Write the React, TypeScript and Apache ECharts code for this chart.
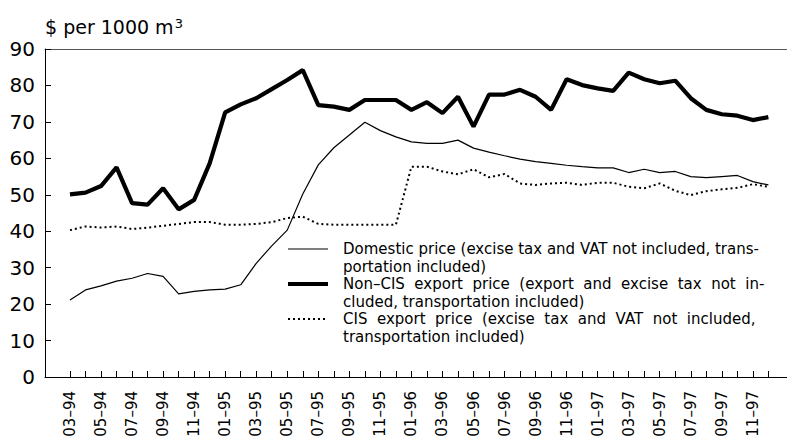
import React, { useEffect, useRef } from 'react';
import * as echarts from 'echarts';

const months = [
  '03–94', '04–94', '05–94', '06–94', '07–94', '08–94', '09–94', '10–94', '11–94', '12–94',
  '01–95', '02–95', '03–95', '04–95', '05–95', '06–95', '07–95', '08–95', '09–95', '10–95', '11–95', '12–95',
  '01–96', '02–96', '03–96', '04–96', '05–96', '06–96', '07–96', '08–96', '09–96', '10–96', '11–96', '12–96',
  '01–97', '02–97', '03–97', '04–97', '05–97', '06–97', '07–97', '08–97', '09–97', '10–97', '11–97', '12–97',
];

const domestic = [
  21.1, 23.9, 25.0, 26.3, 27.1, 28.4, 27.6, 22.8, 23.5, 23.9, 24.1, 25.3, 31.2, 36.0, 40.3, 50.2,
  58.2, 62.9, 66.4, 69.9, 67.6, 65.9, 64.5, 64.1, 64.1, 65.0, 62.8, 61.7, 60.7, 59.8, 59.1,
  58.6, 58.1, 57.7, 57.4, 57.4, 56.1, 57.0, 56.1, 56.4, 55.0, 54.7, 55.0, 55.3, 53.6, 52.7,
];

const nonCis = [
  50.1, 50.6, 52.4, 57.5, 47.7, 47.3, 51.8, 46.0, 48.6, 58.6, 72.6, 74.8, 76.5, 79.0, 81.5, 84.2,
  74.6, 74.2, 73.3, 76.0, 76.0, 76.0, 73.3, 75.4, 72.4, 76.9, 68.7, 77.5, 77.5, 78.8, 76.9,
  73.3, 81.7, 80.1, 79.2, 78.5, 83.5, 81.7, 80.6, 81.3, 76.5, 73.3, 72.1, 71.7, 70.5, 71.3,
];

const cis = [
  40.3, 41.3, 41.0, 41.3, 40.6, 41.0, 41.5, 42.0, 42.5, 42.5, 41.8, 41.8, 42.0, 42.5, 43.6, 44.0,
  42.0, 41.8, 41.8, 41.8, 41.8, 41.8, 57.7, 57.7, 56.4, 55.6, 57.0, 54.8, 55.7, 53.1, 52.7,
  53.1, 53.3, 52.7, 53.3, 53.3, 52.2, 51.8, 53.1, 51.1, 49.9, 51.0, 51.5, 51.9, 52.9, 52.2,
];

const seriesNames = [
  'Domestic price (excise tax and VAT not included, transportation included)',
  'Non–CIS export price (export and excise tax not included, transportation included)',
  'CIS export price (excise tax and VAT not included, transportation included)',
];

const legendLines = [
  'Domestic price (excise tax and VAT not included, trans-\nportation included)',
  'Non–CIS  export  price  (export  and  excise  tax  not  in-\ncluded, transportation included)',
  'CIS  export  price  (excise  tax  and  VAT  not  included,\ntransportation included)',
];

const unitTitle = '$ per 1000 m';

const FONT = 'DejaVu Sans';

const lineStyles = [
  { width: 1.2, dash: undefined as number[] | undefined },
  { width: 4.2, dash: undefined as number[] | undefined },
  { width: 2, dash: [2, 3] },
];

export default function App() {
  const ref = useRef<HTMLDivElement>(null);

  useEffect(() => {
    if (!ref.current) return;
    const chart = echarts.init(ref.current, undefined, { renderer: 'svg' });
    const tickIdx = months.map((_, i) => i);
    const labelIdx = months.map((_, i) => i).filter((i) => i % 2 === 0);
    const xMin = -1.61;
    const xMax = 46.2;

    // legend drawn as graphic elements (icon aligned with first text line)
    const legLeft = 288;
    const legTop = 249;
    const legLH = 17.5;
    const legPitch = legLH * 2;
    const legendGraphic: any[] = [];
    legendLines.forEach((txt, k) => {
      const cy = legTop + k * legPitch;
      legendGraphic.push({
        type: 'line',
        shape: { x1: legLeft, y1: cy, x2: legLeft + 40, y2: cy },
        style: { stroke: '#000', lineWidth: lineStyles[k].width, lineDash: lineStyles[k].dash },
        silent: true,
      });
      legendGraphic.push({
        type: 'text',
        x: legLeft + 55,
        y: cy - legLH / 2,
        style: {
          text: txt,
          fontFamily: FONT,
          fontSize: 15,
          lineHeight: legLH,
          fill: '#000',
          align: 'left',
          verticalAlign: 'top',
        },
        silent: true,
      });
    });

    chart.setOption({
      animation: false,
      backgroundColor: '#ffffff',
      textStyle: { fontFamily: FONT },
      title: {
        text: unitTitle + '{sup|3}',
        left: 45,
        top: 17,
        padding: 0,
        textStyle: {
          fontFamily: FONT,
          fontSize: 19,
          fontWeight: 'normal',
          color: '#000',
          rich: {
            sup: { fontFamily: FONT, fontSize: 13, color: '#000', verticalAlign: 'top', padding: [0, 0, 0, 1] },
          },
        },
      },
      grid: { left: 45, right: 0, top: 49, bottom: 62, outerBoundsMode: 'none', containLabel: false },
      xAxis: [
        {
          type: 'value',
          position: 'bottom',
          min: xMin,
          max: xMax,
          splitLine: { show: false },
          axisLine: { show: true, onZero: false, lineStyle: { color: '#000', width: 1 } },
          axisTick: { show: true, inside: true, length: 6, customValues: tickIdx, lineStyle: { color: '#000' } },
          axisLabel: {
            customValues: labelIdx,
            rotate: 90,
            margin: 14,
            fontSize: 15,
            fontFamily: FONT,
            color: '#000',
            hideOverlap: false,
            formatter: (v: number) => months[Math.round(v)] ?? '',
          },
        },
        {
          type: 'value',
          position: 'top',
          min: xMin,
          max: xMax,
          splitLine: { show: false },
          axisLine: { show: true, onZero: false, lineStyle: { color: '#555', width: 1 } },
          axisTick: { show: false },
          axisLabel: { show: false },
        },
      ],
      yAxis: {
        type: 'value',
        min: 0,
        max: 90,
        interval: 10,
        splitLine: { show: false },
        axisLine: { show: true, onZero: false, lineStyle: { color: '#000', width: 1 } },
        axisTick: { show: true, inside: true, length: 6, lineStyle: { color: '#000' } },
        axisLabel: { fontSize: 20, fontFamily: FONT, color: '#000', margin: 10 },
      },
      graphic: legendGraphic,
      series: [
        {
          name: seriesNames[0],
          type: 'line',
          data: domestic.map((v, i) => [i, v]),
          symbol: 'none',
          lineStyle: { color: '#000', width: lineStyles[0].width },
          itemStyle: { color: '#000' },
        },
        {
          name: seriesNames[1],
          type: 'line',
          data: nonCis.map((v, i) => [i, v]),
          symbol: 'none',
          lineStyle: { color: '#000', width: lineStyles[1].width },
          itemStyle: { color: '#000' },
        },
        {
          name: seriesNames[2],
          type: 'line',
          data: cis.map((v, i) => [i, v]),
          symbol: 'none',
          lineStyle: { color: '#000', width: lineStyles[2].width, type: lineStyles[2].dash },
          itemStyle: { color: '#000' },
        },
      ],
    });
    return () => chart.dispose();
  }, []);

  return (
    <div
      ref={ref}
      style={{ position: 'fixed', left: 0, top: 0, width: 787, height: 439, background: '#fff' }}
    />
  );
}
